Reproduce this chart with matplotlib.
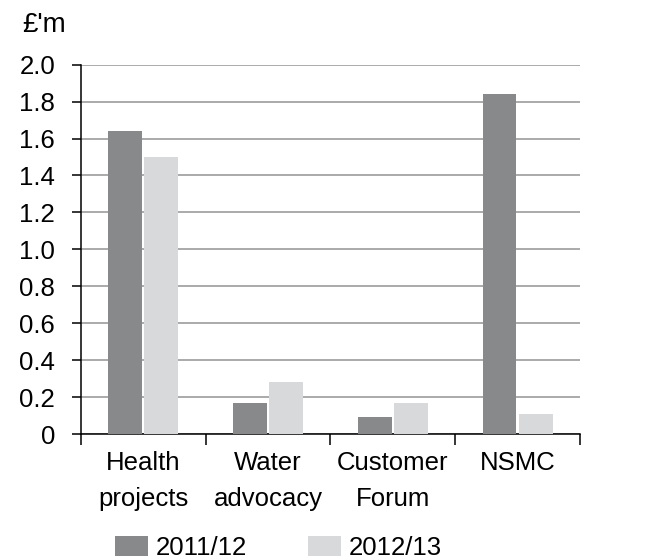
import matplotlib
matplotlib.use("Agg")
import matplotlib.pyplot as plt
import numpy as np

categories = ["Health\nprojects", "Water\nadvocacy", "Customer\nForum", "NSMC"]
series_names = ["2011/12", "2012/13"]
values_2011 = [1.64, 0.17, 0.09, 1.84]
values_2012 = [1.50, 0.28, 0.17, 0.11]
y_ticks = [0, 0.2, 0.4, 0.6, 0.8, 1.0, 1.2, 1.4, 1.6, 1.8, 2.0]
y_tick_labels = ["0", "0.2", "0.4", "0.6", "0.8", "1.0", "1.2", "1.4", "1.6", "1.8", "2.0"]

dark = "#88898b"
light = "#d8d9db"

plt.rcParams['font.family'] = ['Liberation Sans', 'DejaVu Sans']
fs = 18.5

fig = plt.figure(figsize=(6.5, 5.6), dpi=100)
ax = fig.add_axes([80.7/650, 1-434/560, (580-80.7)/650, (434-64.7)/560])

x = np.arange(len(categories))
w = 0.27
gap = 0.02
b1 = ax.bar(x - w/2 - gap/2, values_2011, width=w, color=dark, label=series_names[0], zorder=3)
b2 = ax.bar(x + w/2 + gap/2, values_2012, width=w, color=light, label=series_names[1], zorder=3)

ax.set_xlim(-0.5, len(categories) - 0.5)
ax.set_ylim(0, 2.0)
ax.set_yticks(y_ticks)
ax.set_yticklabels(y_tick_labels, fontsize=fs)
ax.yaxis.grid(True, color="#939393", linewidth=1.1, zorder=0)
ax.set_axisbelow(True)

ax.set_xticks(x)
ax.set_xticklabels(categories, fontsize=fs, linespacing=1.65)
ax.set_xticks(np.arange(len(categories) + 1) - 0.5, minor=True)
ax.tick_params(axis='x', which='major', length=0, pad=12)
ax.tick_params(axis='x', which='minor', length=8, width=1.1, direction='out', color='black')
ax.tick_params(axis='y', length=6.5, width=1.1, direction='out', pad=12)

for s in ['top', 'right']:
    ax.spines[s].set_visible(False)
for s in ['left', 'bottom']:
    ax.spines[s].set_linewidth(1.1)
    ax.spines[s].set_color('black')

fig.text(22/650, 1-31.7/560, "£'m", fontsize=20, va='baseline', ha='left')

fig.legend(handles=[b1, b2], labels=series_names, loc='lower left',
           bbox_to_anchor=(115/650, 0.0), ncol=2, frameon=False, fontsize=fs,
           handlelength=1.3, handleheight=0.85, handletextpad=0.3,
           columnspacing=2.35, borderpad=0.0, borderaxespad=0.0)

fig.savefig("out.png", dpi=100)
